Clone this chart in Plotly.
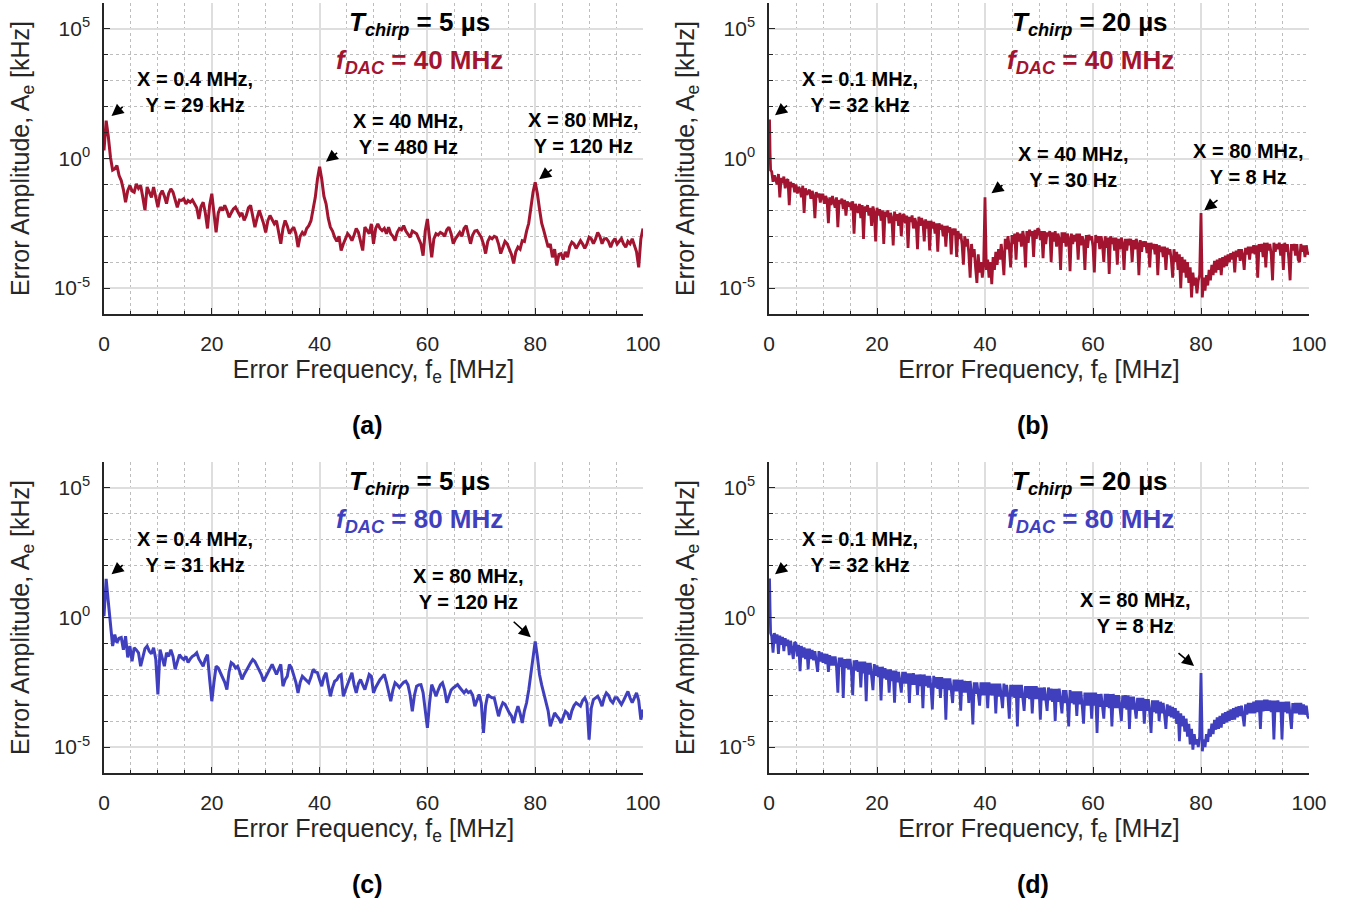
import math
import plotly.graph_objects as go

W, H = 1350, 909

# ---------------- data (log10 of error amplitude in kHz) ----------------
# Tchirp = 5 us panels: frequency bins every 0.4 MHz from 0 to 100 MHz
freq_5us = [round(0.4 * i, 1) for i in range(251)]
# Tchirp = 20 us panels: first bins near DC, then every 0.25 MHz
freq_20us = [0.0, 0.1, 0.2, 0.3] + [0.25 * k for k in range(2, 401)]

log_a = [0.31, 1.46, 0.85, 0.05, -0.45, -0.40, -0.27, -0.66, -0.85, -1.2,
         -1.69, -1.24, -1.04, -1.25, -1.3, -0.98, -1.15, -1.04, -1.5, -2.0,
         -1.1, -1.3, -1.5, -1.1, -1.45, -1.88, -1.4, -1.24, -1.45, -1.74,
         -1.35, -1.17, -1.3, -1.55, -1.88, -1.6, -1.62, -1.55, -1.75, -1.62,
         -1.69, -1.6, -1.74, -1.9, -2.33, -1.85, -1.69, -2.1, -2.7, -1.8,
         -1.36, -2.2, -2.85, -2.1, -1.88, -2.0, -1.81, -2.0, -2.27, -2.1,
         -1.95, -1.88, -2.05, -2.2, -2.1, -2.39, -2.2, -1.9, -1.81, -2.3,
         -2.65, -2.3, -2.0, -2.25, -2.5, -2.85, -2.4, -2.2, -2.35, -2.52,
         -2.4, -2.8, -3.29, -2.7, -2.39, -2.6, -2.9, -2.75, -2.65, -2.9,
         -3.42, -3.0, -2.85, -2.95, -2.7, -2.59, -2.4, -1.95, -1.5, -0.8,
         -0.32, -0.8, -1.45, -1.75, -2.3, -2.65, -2.8, -3.04, -3.2, -3.0,
         -3.55, -3.3, -3.1, -2.9, -3.0, -3.17, -2.95, -2.7, -2.85, -3.2,
         -3.55, -2.65, -2.8, -2.9, -2.52, -3.29, -2.7, -2.52, -2.7, -2.78,
         -2.7, -2.9, -2.65, -2.9, -3.0, -3.17, -2.85, -2.7, -2.75, -2.59,
         -2.8, -2.9, -3.04, -2.8, -2.85, -2.9, -3.1, -3.3, -3.75, -2.8,
         -2.33, -3.0, -3.81, -3.1, -2.9, -2.95, -2.85, -2.9, -3.0, -2.75,
         -2.65, -2.9, -3.29, -3.1, -2.95, -2.85, -3.0, -2.7, -2.59, -3.0,
         -3.29, -2.95, -2.8, -2.78, -2.9, -3.04, -3.3, -3.67, -3.2, -3.04,
         -3.1, -3.0, -3.04, -3.3, -3.67, -3.4, -3.2, -3.29, -3.5, -3.7,
         -4.05, -3.6, -3.42, -3.5, -3.17, -3.2, -2.8, -2.5, -1.9, -1.3,
         -0.92, -1.35, -1.95, -2.5, -2.78, -3.1, -3.42, -3.3, -3.81, -3.5,
         -4.13, -3.7, -3.67, -3.9, -3.6, -3.81, -3.4, -3.23, -3.3, -3.47,
         -3.3, -3.17, -3.3, -3.47, -3.3, -3.04, -3.1, -3.29, -3.1, -2.85,
         -3.0, -3.29, -3.1, -3.09, -3.2, -3.42, -3.2, -3.09, -3.3, -3.2,
         -3.09, -3.3, -3.42, -3.2, -3.29, -3.1, -3.35, -3.6, -4.2, -3.1,
         -2.7]

log_c = [0.05, 1.49, 0.6, -0.3, -1.1, -0.66, -0.97, -0.8, -0.77, -1.24,
         -0.72, -1.54, -1.1, -1.69, -1.17, -1.25, -1.36, -1.88, -1.5, -1.2,
         -1.1, -1.3, -1.4, -1.17, -1.6, -2.97, -1.24, -1.6, -1.88, -1.36,
         -1.5, -1.24, -1.5, -2.0, -1.7, -1.43, -1.55, -1.62, -1.5, -1.74,
         -1.6, -1.5, -1.45, -1.36, -1.6, -1.74, -1.88, -1.6, -1.43, -2.39,
         -3.23, -2.5, -1.88, -1.95, -2.13, -2.3, -2.5, -2.78, -2.1, -1.74,
         -1.8, -1.95, -1.88, -2.1, -2.39, -2.2, -2.07, -1.9, -1.75, -1.62,
         -1.7, -1.85, -2.0, -2.2, -2.46, -2.3, -2.13, -1.95, -1.81, -2.0,
         -2.2, -2.0, -1.81, -2.65, -2.4, -2.27, -1.81, -1.95, -2.2, -2.5,
         -2.91, -2.5, -2.27, -2.35, -2.45, -2.52, -2.3, -2.0, -2.1, -2.13,
         -2.4, -2.65, -2.3, -2.13, -2.6, -3.04, -2.7, -2.46, -2.4, -2.25,
         -2.2, -3.04, -2.8, -2.59, -2.4, -2.13, -2.6, -2.91, -2.55, -2.39,
         -2.6, -2.78, -2.5, -2.2, -2.27, -2.91, -2.7, -2.52, -2.4, -2.3,
         -2.2, -2.5, -2.9, -3.23, -2.8, -2.52, -2.6, -2.7, -2.59, -2.5,
         -2.46, -2.6, -3.0, -3.62, -3.0, -2.65, -2.6, -2.59, -2.9, -3.5,
         -4.26, -3.3, -2.59, -2.8, -3.04, -2.8, -2.6, -2.52, -2.8, -3.29,
         -3.0, -2.8, -2.72, -2.65, -2.59, -2.7, -2.8, -2.91, -2.8, -2.9,
         -2.85, -3.0, -3.42, -3.2, -2.97, -3.3, -4.45, -3.4, -2.97, -3.05,
         -3.1, -3.1, -3.4, -3.81, -3.5, -3.29, -3.35, -3.55, -3.68, -3.8,
         -4.07, -3.7, -3.42, -3.7, -4.07, -3.6, -3.29, -2.8, -2.14, -1.4,
         -0.92, -1.5, -2.2, -2.6, -2.9, -3.29, -3.6, -4.2, -3.9, -3.68,
         -3.8, -3.9, -4.07, -3.8, -3.62, -3.7, -3.94, -3.6, -3.4, -3.29,
         -3.35, -3.42, -3.2, -3.1, -3.3, -4.71, -3.5, -3.17, -3.1, -3.04,
         -3.2, -3.42, -3.1, -2.91, -3.0, -3.2, -3.29, -3.1, -3.1, -3.25,
         -3.36, -3.2, -3.0, -2.85, -3.1, -3.29, -3.1, -2.91, -3.2, -3.94,
         -3.55]

log_b = [0.3, 1.5, 0.2, -0.45,
         -0.5, -0.9, -0.65, -0.8, -1.0, -0.6, -1.5, -0.75, -0.95, -0.7, -1.15, -0.85, -0.8, -1.8, -0.9, -1.1, -0.95, -1.3,
         -1.0, -1.35, -1.1, -1.2, -1.5, -1.05, -2.1, -1.15, -1.4, -1.3, -1.2, -1.55, -1.25, -1.45, -2.3, -1.3, -1.5, -1.35, -1.7, -1.4,
         -1.4, -1.75, -1.45, -1.6, -2.5, -1.5, -1.8, -1.45, -1.7, -1.9, -1.5, -2.65, -1.6, -1.75, -1.55, -1.95, -1.6, -2.2, -1.65, -1.85,
         -1.7, -2.0, -1.65, -2.9, -1.75, -1.9, -2.1, -1.75, -2.3, -1.8, -3.1, -1.85, -2.05, -1.8, -2.2, -1.9, -2.6, -1.85, -2.1, -3.2,
         -1.9, -2.2, -1.95, -2.4, -2.0, -3.3, -2.05, -2.25, -2.0, -2.5, -2.1, -2.3, -3.35, -2.05, -2.4, -2.15, -2.6, -2.1, -3.0, -2.2,
         -2.15, -2.5, -2.2, -3.45, -2.25, -2.45, -2.2, -2.7, -2.3, -2.5, -3.5, -2.25, -2.6, -2.3, -2.45, -3.2, -2.35, -2.7, -2.4, -3.55,
         -2.4, -2.7, -2.45, -2.9, -2.5, -3.6, -2.5, -2.75, -2.55, -3.0, -2.6, -3.4, -2.6, -2.85, -2.65, -3.7, -2.7, -2.95, -2.7, -3.8,
         -2.8, -3.1, -2.9, -3.3, -4.1, -3.0, -3.4, -3.1, -3.65, -4.6, -3.3, -3.8, -3.5, -4.2, -4.8, -3.7, -4.4, -4.0, -4.6, -4.1,
         -1.5, -4.3, -3.9, -4.6, -4.0, -4.85, -3.8, -4.3, -3.6, -4.1, -3.5, -3.9, -3.3, -3.8, -4.5, -3.1, -3.5, -3.0, -3.45, -4.2,
         -2.95, -3.3, -2.9, -3.9, -2.85, -3.2, -2.9, -3.4, -2.8, -3.1, -4.2, -2.8, -3.25, -2.75, -3.0, -2.8, -3.8, -2.75, -3.1, -2.7,
         -2.75, -3.15, -2.8, -3.85, -2.8, -3.3, -2.85, -3.0, -2.8, -4.0, -2.85, -3.2, -2.8, -3.4, -2.9, -3.1, -4.3, -2.85, -3.25, -2.85,
         -3.4, -2.9, -3.1, -4.35, -2.9, -3.3, -2.95, -3.2, -2.9, -3.9, -2.9, -3.35, -3.0, -3.2, -4.3, -2.95, -3.45, -2.95, -3.15, -3.0,
         -3.4, -4.4, -2.95, -3.25, -3.0, -3.5, -3.0, -3.3, -4.0, -3.0, -3.45, -3.05, -4.45, -3.0, -3.3, -3.05, -3.55, -3.05, -4.1, -3.1,
         -3.5, -3.05, -3.3, -4.3, -3.1, -3.55, -3.1, -3.35, -3.1, -4.0, -3.15, -3.5, -3.1, -3.3, -4.5, -3.15, -3.6, -3.2, -3.4, -3.2,
         -3.65, -3.25, -4.2, -3.25, -3.5, -3.3, -3.7, -3.3, -4.5, -3.35, -3.6, -3.4, -3.8, -3.4, -4.3, -3.45, -3.7, -3.5, -3.9, -4.6,
         -3.5, -4.0, -3.6, -4.3, -3.7, -5.0, -3.8, -4.4, -3.9, -4.6, -4.0, -4.8, -4.2, -5.36, -4.4, -4.9, -4.6, -5.2, -4.7, -4.5,
         -2.1, -5.36, -4.6, -5.1, -4.5, -4.9, -4.3, -4.7, -4.1, -4.5, -3.95, -4.4, -3.9, -4.3, -3.85, -4.5, -3.8, -4.2, -3.75, -4.15,
         -3.7, -4.0, -3.65, -3.9, -3.6, -4.4, -3.55, -3.8, -3.5, -3.95, -3.5, -3.75, -4.3, -3.45, -3.7, -3.4, -3.9, -3.4, -3.65, -3.35,
         -3.7, -3.35, -4.6, -3.3, -3.6, -3.3, -3.8, -3.25, -4.2, -3.25, -3.55, -3.3, -3.7, -4.7, -3.25, -3.6, -3.3, -3.5, -3.25, -3.75,
         -3.3, -4.3, -3.25, -3.6, -3.3, -3.85, -4.7, -3.3, -3.55, -3.3, -3.75, -3.3, -3.9, -4.0, -3.3, -3.6, -3.35, -3.8, -3.35, -3.7,
         -3.6]

log_d = [0.58, 1.5, 0.3, -0.6,
         -0.72, -1.36, -0.6, -1.0, -0.65, -1.4, -0.7, -1.05, -0.75, -1.3, -0.8, -1.1, -0.85, -1.45, -0.9, -1.2, -1.6, -0.95,
         -1.0, -1.5, -1.05, -2.07, -1.1, -1.55, -1.15, -1.6, -1.2, -2.0, -1.2, -1.6, -1.25, -1.65, -1.3, -1.7, -2.1, -1.3, -1.7, -1.35,
         -1.75, -1.4, -1.8, -1.4, -2.1, -1.45, -1.85, -1.5, -1.85, -1.5, -1.9, -2.9, -1.55, -1.9, -1.55, -3.1, -1.6, -1.95, -1.6, -2.0,
         -1.6, -2.05, -3.0, -1.65, -2.05, -1.65, -2.1, -1.7, -2.7, -1.7, -2.15, -1.7, -3.23, -1.75, -2.2, -1.75, -2.2, -2.8, -1.8, -2.25,
         -1.85, -2.3, -1.9, -3.2, -1.9, -2.35, -1.95, -2.4, -2.0, -2.9, -2.0, -2.45, -2.05, -3.29, -2.05, -2.5, -2.1, -2.5, -2.9, -2.1,
         -2.55, -2.1, -2.55, -2.15, -3.3, -2.15, -2.6, -2.15, -2.6, -2.2, -3.0, -2.2, -2.65, -2.2, -3.5, -2.2, -2.65, -2.25, -2.7, -2.25,
         -2.7, -3.55, -2.25, -2.7, -2.3, -2.75, -2.3, -3.1, -2.3, -2.75, -2.35, -3.94, -2.35, -2.8, -2.35, -2.8, -3.3, -2.4, -2.85, -2.4,
         -2.85, -2.4, -3.6, -2.4, -2.9, -2.45, -2.9, -2.45, -3.3, -2.45, -2.9, -4.13, -2.5, -2.95, -2.5, -2.95, -3.4, -2.5, -3.0, -2.5,
         -3.0, -2.5, -3.5, -2.5, -3.0, -2.55, -3.0, -2.55, -3.7, -2.55, -3.05, -2.55, -3.05, -3.5, -2.55, -3.05, -2.6, -3.05, -3.9, -2.6,
         -3.05, -2.6, -3.1, -2.6, -4.2, -2.6, -3.1, -2.6, -3.1, -3.6, -2.65, -3.1, -2.65, -3.15, -2.65, -3.7, -2.65, -3.15, -2.65, -3.15,
         -2.7, -3.94, -2.7, -3.2, -2.7, -3.2, -3.6, -2.7, -3.2, -2.75, -3.25, -2.75, -4.0, -2.75, -3.25, -2.75, -3.3, -3.7, -2.8, -3.3,
         -2.8, -3.3, -4.2, -2.8, -3.3, -2.85, -3.35, -2.85, -3.8, -2.85, -3.35, -2.85, -3.4, -4.1, -2.9, -3.4, -2.9, -3.4, -2.9, -3.9,
         -2.9, -3.4, -2.9, -4.45, -2.95, -3.45, -2.95, -3.45, -3.9, -2.95, -3.45, -2.95, -3.5, -2.95, -4.2, -2.95, -3.5, -3.0, -3.5, -3.0,
         -3.5, -4.0, -3.0, -3.5, -3.0, -3.55, -3.0, -4.3, -3.05, -3.55, -3.05, -3.55, -3.9, -3.1, -3.6, -3.1, -3.6, -3.1, -4.1, -3.15,
         -3.6, -3.15, -3.65, -4.45, -3.2, -3.65, -3.2, -3.7, -3.2, -4.0, -3.25, -3.7, -3.3, -3.75, -4.3, -3.35, -3.8, -3.4, -3.85, -3.45,
         -3.9, -3.5, -4.1, -3.6, -4.77, -3.7, -4.2, -3.8, -4.4, -3.9, -4.6, -4.1, -4.9, -4.3, -5.1, -4.5, -4.9, -4.7, -5.0, -4.6,
         -2.14, -5.16, -4.7, -5.0, -4.5, -4.8, -4.3, -4.6, -4.1, -4.5, -3.95, -4.33, -3.85, -4.3, -3.8, -4.25, -3.7, -4.1, -3.65, -4.05,
         -3.6, -4.0, -3.55, -3.95, -3.5, -3.94, -3.45, -3.85, -3.42, -3.8, -3.4, -3.8, -4.2, -3.35, -3.75, -3.3, -3.7, -3.3, -3.7, -3.25,
         -3.7, -3.2, -3.65, -3.2, -4.3, -3.2, -3.62, -3.17, -3.6, -3.17, -3.6, -3.2, -3.65, -3.2, -4.71, -3.2, -3.65, -3.2, -3.65, -3.25,
         -4.71, -3.25, -3.65, -3.25, -3.7, -3.25, -3.7, -4.3, -3.3, -3.7, -3.3, -3.7, -3.3, -3.75, -3.3, -3.75, -3.35, -3.75, -3.4, -3.8,
         -3.9]

assert len(log_a) == len(freq_5us) and len(log_c) == len(freq_5us)
assert len(log_b) == len(freq_20us) and len(log_d) == len(freq_20us)

# panel texts
tchirp_labels = ["5 µs", "20 µs", "5 µs", "20 µs"]
fdac_labels = ["40 MHz", "40 MHz", "80 MHz", "80 MHz"]
panel_tags = ["(a)", "(b)", "(c)", "(d)"]
# peak markers: (panel, freq MHz, amplitude kHz, label)
peaks = [
    (0, 0.4, 29.0, "X = 0.4 MHz,<br>Y = 29 kHz"),
    (0, 40.0, 0.48, "X = 40 MHz,<br>Y = 480 Hz"),
    (0, 80.0, 0.12, "X = 80 MHz,<br>Y = 120 Hz"),
    (1, 0.1, 32.0, "X = 0.1 MHz,<br>Y = 32 kHz"),
    (1, 40.0, 0.03, "X = 40 MHz,<br>Y = 30 Hz"),
    (1, 80.0, 0.008, "X = 80 MHz,<br>Y = 8 Hz"),
    (2, 0.4, 31.0, "X = 0.4 MHz,<br>Y = 31 kHz"),
    (2, 80.0, 0.12, "X = 80 MHz,<br>Y = 120 Hz"),
    (3, 0.1, 32.0, "X = 0.1 MHz,<br>Y = 32 kHz"),
    (3, 80.0, 0.008, "X = 80 MHz,<br>Y = 8 Hz"),
]

# ---------------- style ----------------
RED = "#A2142F"
BLUE = "#4040BF"
colors = [RED, RED, BLUE, BLUE]
widths = [3.0, 2.8, 3.0, 2.8]
AX = "#262626"
SANS = "Liberation Sans, Arial, Helvetica, sans-serif"
BOLD = "Liberation Sans, Arial, Helvetica, sans-serif"

def paper(px, py):
    return px / W, 1 - py / H

# plot areas in pixels (left, right, top, bottom)
boxes = [(104, 643, 3, 314), (769, 1309, 3, 314),
         (104, 643, 462, 773), (769, 1309, 462, 773)]

fig = go.Figure()
series = [(freq_5us, log_a), (freq_20us, log_b), (freq_5us, log_c), (freq_20us, log_d)]
for i, (fx, ly) in enumerate(series):
    sfx = "" if i == 0 else str(i + 1)
    fig.add_trace(go.Scatter(x=fx, y=[10 ** v for v in ly], mode="lines",
                             line=dict(color=colors[i], width=widths[i]),
                             xaxis="x" + sfx, yaxis="y" + sfx, showlegend=False,
                             hoverinfo="skip"))

layout = dict(width=W, height=H, margin=dict(l=0, r=0, t=0, b=0),
              paper_bgcolor="white", plot_bgcolor="white", showlegend=False)

for i, (l, r, t, b) in enumerate(boxes):
    sfx = "" if i == 0 else str(i + 1)
    xd = [l / W, r / W]
    yd = [1 - b / H, 1 - t / H]
    layout["xaxis" + sfx] = dict(
        domain=xd, anchor="y" + sfx, range=[0, 100],
        tickmode="array", tickvals=[0, 20, 40, 60, 80, 100],
        ticks="inside", ticklen=6, tickwidth=1.2, tickcolor=AX,
        showline=True, linecolor=AX, linewidth=1.5, mirror=False,
        showgrid=True, gridcolor="#dedede", gridwidth=1.5, zeroline=False,
        minor=dict(tickmode="array", tickvals=[5, 10, 15, 25, 30, 35, 45, 50, 55, 65, 70, 75, 85, 90, 95],
                   ticks="inside", ticklen=3, tickcolor=AX, tickwidth=1,
                   showgrid=True, gridcolor="#bdbdbd", griddash="dot", gridwidth=1),
        tickfont=dict(family=SANS, size=21, color=AX), ticklabelstandoff=10,
        title=dict(text="Error Frequency, f<sub>e</sub> [MHz]",
                   font=dict(family=SANS, size=25, color=AX), standoff=4),
        automargin=False, fixedrange=True)
    layout["yaxis" + sfx] = dict(
        domain=yd, anchor="x" + sfx, type="log", range=[-6, 6],
        tickmode="array", tickvals=[1e-5, 1, 1e5],
        ticktext=["10<sup>-5</sup>", "10<sup>0</sup>", "10<sup>5</sup>"],
        ticks="inside", ticklen=6, tickwidth=1.2, tickcolor=AX,
        showline=True, linecolor=AX, linewidth=1.5,
        showgrid=True, gridcolor="#dedede", gridwidth=1.5, zeroline=False,
        minor=dict(tickmode="array", tickvals=[10.0 ** k for k in range(-6, 7) if k % 5 != 0],
                   ticks="inside", ticklen=4, tickcolor=AX, tickwidth=1,
                   showgrid=True, gridcolor="#bdbdbd", griddash="dot", gridwidth=1),
        tickfont=dict(family=SANS, size=21, color=AX), ticklabelstandoff=8,
        title=dict(text="Error Amplitude, A<sub>e</sub> [kHz]",
                   font=dict(family=SANS, size=25, color=AX), standoff=17),
        automargin=False, fixedrange=True)

fig.update_layout(**layout)

ann = []
# titles
for i, (l, r, t, b) in enumerate(boxes):
    cx = l + (r - l) * (0.585 if i % 2 == 0 else 0.595)
    x1, y1 = paper(cx, t + 20)
    ann.append(dict(x=x1, y=y1, xref="paper", yref="paper", xanchor="center", yanchor="middle",
                    showarrow=False,
                    text="<b><i>T</i><sub><i>chirp</i></sub> = " + tchirp_labels[i] + "</b>",
                    font=dict(family=BOLD, size=26, color="black")))
    x2, y2 = paper(cx, t + 58)
    ann.append(dict(x=x2, y=y2, xref="paper", yref="paper", xanchor="center", yanchor="middle",
                    showarrow=False,
                    text="<b><i>f</i><sub><i>DAC</i></sub> = " + fdac_labels[i] + "</b>",
                    font=dict(family=BOLD, size=26, color=colors[i])))
    x3, y3 = paper((l + r) / 2 - 6, b + 111)
    ann.append(dict(x=x3, y=y3, xref="paper", yref="paper", xanchor="center", yanchor="middle",
                    showarrow=False, text="<b>" + panel_tags[i] + "</b>",
                    font=dict(family=BOLD, size=25, color="black")))

# peak label text positions (pixel centres) and arrow tail offsets
label_pos = [(195, 92), (408, 134), (583, 133),
             (860, 92), (1073, 167), (1248, 164),
             (195, 552), (468, 589),
             (860, 552), (1135, 613)]
arrow_off = [(18, -15, 7), (19, -15, 8), (18, -14, 5),
             (19, -15, 7), (19, -14, 8), (18, -14, 4),
             (18, -15, 7), (-23, -21, 6),
             (19, -15, 7), (-24, -20, 9)]
for k, (p, fx, amp, txt) in enumerate(peaks):
    sfx = "" if p == 0 else str(p + 1)
    lx, ly = paper(*label_pos[k])
    ann.append(dict(x=lx, y=ly, xref="paper", yref="paper", xanchor="center", yanchor="middle",
                    showarrow=False, text="<b>" + txt + "</b>",
                    font=dict(family=BOLD, size=20, color="black")))
    ax, ay, so = arrow_off[k]
    ann.append(dict(x=fx, y=math.log10(amp), xref="x" + sfx, yref="y" + sfx, text="",
                    showarrow=True, arrowhead=2, arrowsize=1.5, arrowwidth=1.6,
                    arrowcolor="black", ax=ax, ay=ay, standoff=so))

fig.update_layout(annotations=ann)
fig.write_html("out.html")
